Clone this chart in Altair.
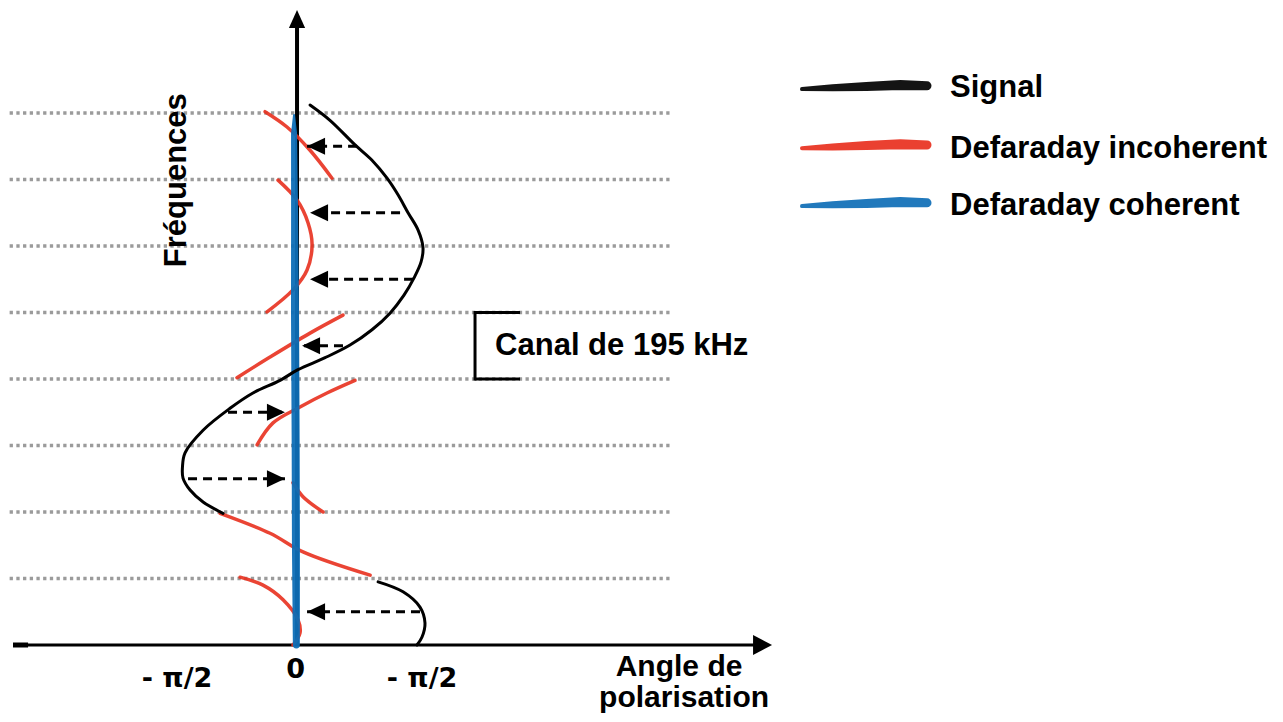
import altair as alt
import pandas as pd

# ---------------- data (x: polarisation angle in degrees, y: frequency in channel units) -------------
X_MIN, X_MAX = -213.2, 721.4
Y_MIN, Y_MAX = -1.0376, 9.579

grid_freq = [1, 2, 3, 4, 5, 6, 7, 8]
grid_x_start = -212.0
grid_x_end = 277.0

# black signal (two pieces)
signal_upper_x = [9.6, 24.3, 42.8, 55.3, 66.4, 74.5, 81.9, 89.3, 92.9, 91.5, 86.3, 78.9, 68.6, 55.3,
                  39.1, 20.7, 0.7, -12.5, -32.5, -49.4, -69.3, -82.6, -84.5, -84.1, -78.9, -69.3, -54.6]
signal_upper_y = [8.12, 7.89, 7.52, 7.29, 7.02, 6.77, 6.50, 6.24, 5.98, 5.76, 5.52, 5.26, 4.99, 4.74,
                  4.51, 4.32, 4.14, 3.98, 3.79, 3.56, 3.23, 2.89, 2.68, 2.51, 2.33, 2.15, 1.98]
signal_lower_x = [59.8, 78.2, 90.7, 94.4, 92.2, 88.5]
signal_lower_y = [0.95, 0.80, 0.57, 0.33, 0.12, 0.0]

# red (Defaraday incoherent) pieces
red_segments = [
    ([-23.6, -7.4, 9.6, 25.8], [8.02, 7.79, 7.44, 7.02]),
    ([-14.0, 0.0, 8.1, 11.1, 7.4, -3.0, -22.1], [6.99, 6.69, 6.35, 6.02, 5.64, 5.34, 5.01]),
    ([33.9, 9.6, -19.9, -44.3], [4.96, 4.69, 4.33, 4.02]),
    ([42.8, 22.1, 2.2, -17.7, -29.5], [3.98, 3.79, 3.58, 3.34, 3.01]),
    ([-3.0, 4.4, 19.2], [2.44, 2.23, 2.00]),
    ([-56.8, -19.9, 4.4, 53.9], [1.98, 1.68, 1.40, 1.05]),
    ([-42.0, -25.1, -10.3, 0.7, 2.2, -3.0], [1.02, 0.90, 0.68, 0.38, 0.18, 0.0]),
]

# blue (Defaraday coherent)
blue_x = [-2.2, -2.2, -1.8, -1.5, -1.0, -0.8, -0.5]
blue_y = [7.97, 7.70, 6.50, 5.00, 3.00, 1.50, 0.00]
blue_w = [2, 6, 7, 8, 8, 8, 7]

# dashed correction arrows
arrow_y = [7.5, 6.5, 5.5, 4.5, 3.5, 2.5, 0.5]
arrow_start = [44.3, 76.0, 85.6, 33.9, -50.9, -80.4, 90.7]
arrow_tip = [7.4, 9.6, 9.6, 3.7, -8.9, -8.9, 7.4]

# axes
yaxis_top = 9.3
yaxis_tip = 9.55
xaxis_left = -209.5
xaxis_right = 345.0
xaxis_tip = 350.4
xaxis_cap_end = -198.4

# bracket "Canal de 195 kHz"
bracket_x = 131.3
bracket_x2 = 164.5
bracket_lo, bracket_hi = 4.0, 5.0

# legend
legend_labels = ["Signal", "Defaraday incoherent", "Defaraday coherent"]
legend_colors = ["#000000", "#e8301e", "#0e6eb6"]
legend_stroke_y = [8.39, 7.50, 6.63]
legend_text_y = [8.245, 7.32, 6.47]
legend_stroke_x = [372.5, 395.0, 420.0, 445.0, 464.7]
legend_stroke_dy = [-0.03, -0.01, 0.01, 0.03, 0.02]
legend_stroke_w = [4, 7, 9, 10, 9]
legend_text_x = 481.7

tick_labels = ["- π/2", "0", "- π/2"]
tick_x = [-88.5, -1.0, 92.2]
tick_y = [-0.63, -0.50, -0.63]

# ---------------- helpers -------------
xs = alt.Scale(domain=[X_MIN, X_MAX], nice=False, zero=False)
ys = alt.Scale(domain=[Y_MIN, Y_MAX], nice=False, zero=False)


def X(f="x"):
    return alt.X(f"{f}:Q", scale=xs, axis=None)


def Y(f="y"):
    return alt.Y(f"{f}:Q", scale=ys, axis=None)


BLACK = "#000000"
RED = "#e8301e"
BLUE = "#0e6eb6"
GRAY = "#9b9b9b"
FONT = "Liberation Sans"

# grid
grid_df = pd.DataFrame({"y": grid_freq, "x": grid_x_start, "x2": grid_x_end})
grid = alt.Chart(grid_df).mark_rule(color=GRAY, strokeWidth=3.3, strokeDash=[3.3, 3.4]).encode(
    x=X("x"), x2="x2:Q", y=Y("y"))

# bracket
br_v = alt.Chart(pd.DataFrame({"x": [bracket_x], "y": [bracket_lo], "y2": [bracket_hi]})).mark_rule(
    color=BLACK, strokeWidth=3, strokeCap="square").encode(x=X("x"), y=Y("y"), y2="y2:Q")
br_h = alt.Chart(pd.DataFrame({"x": [bracket_x, bracket_x], "x2": [bracket_x2, bracket_x2],
                               "y": [bracket_lo, bracket_hi]})).mark_rule(
    color=BLACK, strokeWidth=3).encode(x=X("x"), x2="x2:Q", y=Y("y"))

# axes
yaxis = alt.Chart(pd.DataFrame({"x": [0.0], "y": [0.0], "y2": [yaxis_top]})).mark_rule(
    color=BLACK, strokeWidth=4).encode(x=X("x"), y=Y("y"), y2="y2:Q")
yhead = alt.Chart(pd.DataFrame({"x": [0.0], "y": [yaxis_tip]})).mark_point(
    shape="M0,0L-0.9,2L0.9,2Z", size=324, filled=True, color=BLACK, opacity=1, strokeWidth=0).encode(
    x=X("x"), y=Y("y"))
xaxis = alt.Chart(pd.DataFrame({"x": [xaxis_left], "x2": [xaxis_right], "y": [0.0]})).mark_rule(
    color=BLACK, strokeWidth=3).encode(x=X("x"), x2="x2:Q", y=Y("y"))
xcap = alt.Chart(pd.DataFrame({"x": [xaxis_left], "x2": [xaxis_cap_end], "y": [0.0]})).mark_rule(
    color=BLACK, strokeWidth=5).encode(x=X("x"), x2="x2:Q", y=Y("y"))
xhead = alt.Chart(pd.DataFrame({"x": [xaxis_tip], "y": [0.0]})).mark_point(
    shape="M0,0L-2,-1.05L-2,1.05Z", size=361, filled=True, color=BLACK, opacity=1, strokeWidth=0).encode(
    x=X("x"), y=Y("y"))

# red pieces
rows = []
for s, (xl, yl) in enumerate(red_segments):
    for i, (a, b) in enumerate(zip(xl, yl)):
        rows.append({"seg": s, "i": i, "x": a, "y": b})
red = alt.Chart(pd.DataFrame(rows)).mark_line(
    color=RED, strokeWidth=3.5, opacity=0.9, interpolate="catmull-rom", strokeCap="round").encode(
    x=X("x"), y=Y("y"), detail="seg:N", order="i:Q")

# blue
blue_df = pd.DataFrame({"x": blue_x, "y": blue_y, "w": blue_w, "i": range(len(blue_x))})
blue = alt.Chart(blue_df).mark_trail(color=BLUE, opacity=0.95).encode(
    x=X("x"), y=Y("y"), size=alt.Size("w:Q", scale=None, legend=None), order="i:Q")

# black signal
sig_rows = []
for s, (xl, yl) in enumerate([(signal_upper_x, signal_upper_y), (signal_lower_x, signal_lower_y)]):
    for i, (a, b) in enumerate(zip(xl, yl)):
        sig_rows.append({"seg": s, "i": i, "x": a, "y": b})
signal = alt.Chart(pd.DataFrame(sig_rows)).mark_line(
    color=BLACK, strokeWidth=3, interpolate="catmull-rom", strokeCap="round").encode(
    x=X("x"), y=Y("y"), detail="seg:N", order="i:Q")

# arrows
arr_df = pd.DataFrame({"y": arrow_y, "x": arrow_start, "x2": arrow_tip})
arr_df["dir"] = ["left" if a > b else "right" for a, b in zip(arrow_start, arrow_tip)]
shafts = alt.Chart(arr_df).mark_rule(color=BLACK, strokeWidth=3, strokeDash=[9, 6]).encode(
    x=X("x"), x2="x2:Q", y=Y("y"))
heads_l = alt.Chart(arr_df[arr_df["dir"] == "left"]).mark_point(
    shape="M0,0L2,-0.95L2,0.95Z", size=324, filled=True, color=BLACK, opacity=1, strokeWidth=0).encode(
    x=X("x2"), y=Y("y"))
heads_r = alt.Chart(arr_df[arr_df["dir"] == "right"]).mark_point(
    shape="M0,0L-2,-0.95L-2,0.95Z", size=324, filled=True, color=BLACK, opacity=1, strokeWidth=0).encode(
    x=X("x2"), y=Y("y"))

# texts
ylabel = alt.Chart(pd.DataFrame({"x": [-81.9], "y": [6.99], "t": ["Fréquences"]})).mark_text(
    font=FONT, fontWeight="bold", fontSize=31, angle=270, align="center", baseline="alphabetic",
    color=BLACK).encode(x=X("x"), y=Y("y"), text="t:N")
ticks = alt.Chart(pd.DataFrame({"x": tick_x, "y": tick_y, "t": tick_labels})).mark_text(
    font="DejaVu Sans", fontWeight="bold", fontSize=27, align="center", baseline="alphabetic",
    color=BLACK).encode(x=X("x"), y=Y("y"), text="t:N")
xlabel = alt.Chart(pd.DataFrame({"x": [281.8, 285.5], "y": [-0.47, -0.925],
                                 "t": ["Angle de", "polarisation"]})).mark_text(
    font=FONT, fontWeight="bold", fontSize=30, align="center", baseline="alphabetic",
    color=BLACK).encode(x=X("x"), y=Y("y"), text="t:N")
canal = alt.Chart(pd.DataFrame({"x": [146.1], "y": [4.36], "t": ["Canal de 195 kHz"]})).mark_text(
    font=FONT, fontWeight="bold", fontSize=31, align="left", baseline="alphabetic",
    color=BLACK).encode(x=X("x"), y=Y("y"), text="t:N")

# legend
leg_rows = []
for k, (lab, col, yc) in enumerate(zip(legend_labels, legend_colors, legend_stroke_y)):
    for i, (a, d, w) in enumerate(zip(legend_stroke_x, legend_stroke_dy, legend_stroke_w)):
        leg_rows.append({"lab": lab, "i": i, "x": a, "y": yc + d, "w": w})
leg_strokes = alt.Chart(pd.DataFrame(leg_rows)).mark_trail(opacity=0.92).encode(
    x=X("x"), y=Y("y"), size=alt.Size("w:Q", scale=None, legend=None), order="i:Q",
    color=alt.Color("lab:N", scale=alt.Scale(domain=legend_labels, range=legend_colors), legend=None),
    detail="lab:N")
leg_text = alt.Chart(pd.DataFrame({"x": legend_text_x, "y": legend_text_y, "t": legend_labels})).mark_text(
    font=FONT, fontWeight="bold", fontSize=31, align="left", baseline="alphabetic",
    color=BLACK).encode(x=X("x"), y=Y("y"), text="t:N")

chart = alt.layer(
    grid, br_v, br_h, yaxis, yhead, xaxis, xcap, xhead, red, blue, signal,
    shafts, heads_l, heads_r, ylabel, ticks, xlabel, canal, leg_strokes, leg_text
).properties(
    width=1267, height=706, autosize="none", padding=0
).configure_view(stroke=None)

chart.save("out.html", embed_options={"renderer": "svg", "actions": False})
